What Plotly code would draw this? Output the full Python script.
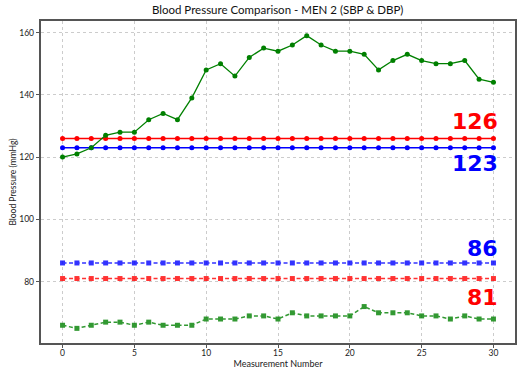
import plotly.graph_objects as go

# ---- data ----
measurement = list(range(31))
sbp = [120, 121, 123, 127, 128, 128, 132, 134, 132, 139, 148, 150, 146, 152, 155,
       154, 156, 159, 156, 154, 154, 153, 148, 151, 153, 151, 150, 150, 151, 145, 144]
dbp = [66, 65, 66, 67, 67, 66, 67, 66, 66, 66, 68, 68, 68, 69, 69,
       68, 70, 69, 69, 69, 69, 72, 70, 70, 70, 69, 69, 68, 69, 68, 68]
sbp_ref_red = 126
sbp_ref_blue = 123
dbp_ref_blue = 86
dbp_ref_red = 81

title = "Blood Pressure Comparison - MEN 2 (SBP & DBP)"
x_title = "Measurement Number"
y_title = "Blood Pressure (mmHg)"

GREEN = "#008000"
RED = "#ff0000"
BLUE = "#0000ff"
FONT = "Lato, 'Noto Sans', sans-serif"

fig = go.Figure()

def add_line(y, color, dashed, symbol, opacity=1.0, width=1.5):
    fig.add_trace(go.Scatter(
        x=measurement, y=y, mode="lines+markers",
        line=dict(color=color, width=width, dash="4px,2.5px" if dashed else "solid"),
        marker=dict(color=color, size=5, symbol=symbol),
        opacity=opacity, showlegend=False, hoverinfo="skip"))

add_line([sbp_ref_red] * len(measurement), RED, False, "circle")
add_line([sbp_ref_blue] * len(measurement), BLUE, False, "circle")
add_line(sbp, GREEN, False, "circle", width=1.3)
add_line([dbp_ref_blue] * len(measurement), BLUE, True, "square", 0.8)
add_line([dbp_ref_red] * len(measurement), RED, True, "square", 0.8)
add_line(dbp, GREEN, True, "square", 0.8)

labels = [(sbp_ref_red, RED, 5.4), (sbp_ref_blue, BLUE, -4.9),
          (dbp_ref_blue, BLUE, 4.6), (dbp_ref_red, RED, -6.2)]
for val, col, off in labels:
    fig.add_annotation(x=30.45, y=val + off, text=f"<b>{val}</b>", showarrow=False,
                       xanchor="right", yanchor="middle",
                       font=dict(family="DejaVu Sans", size=22, color=col))

axis_common = dict(
    showline=True, linecolor="#555", linewidth=1.5, mirror=True,
    ticks="outside", ticklen=3.5, tickcolor="#555", tickwidth=1,
    showgrid=True, gridcolor="#cccccc", griddash="dot", gridwidth=1,
    zeroline=False, tickfont=dict(size=8.5, color="#222", family=FONT),
)

fig.update_layout(
    width=519, height=373,
    margin=dict(l=41, r=2, t=21, b=30),
    paper_bgcolor="white", plot_bgcolor="white",
    title=dict(text=title, x=0.535, xanchor="center", y=0.972, yanchor="middle",
               font=dict(size=11.5, color="#111", family=FONT)),
    xaxis=dict(range=[-1.5, 31.5], tickvals=[0, 5, 10, 15, 20, 25, 30],
               ticklabelstandoff=-2,
               title=dict(text=x_title, standoff=0, font=dict(size=9, color="#222", family=FONT)),
               **axis_common),
    yaxis=dict(range=[60.3, 163.7], tickvals=[80, 100, 120, 140, 160],
               title=dict(text=y_title, standoff=1, font=dict(size=8.5, color="#222", family=FONT)),
               **axis_common),
)

fig.write_html("out.html", config={"displayModeBar": False},
               post_script="document.body.style.margin='0';document.body.style.overflow='hidden';")
